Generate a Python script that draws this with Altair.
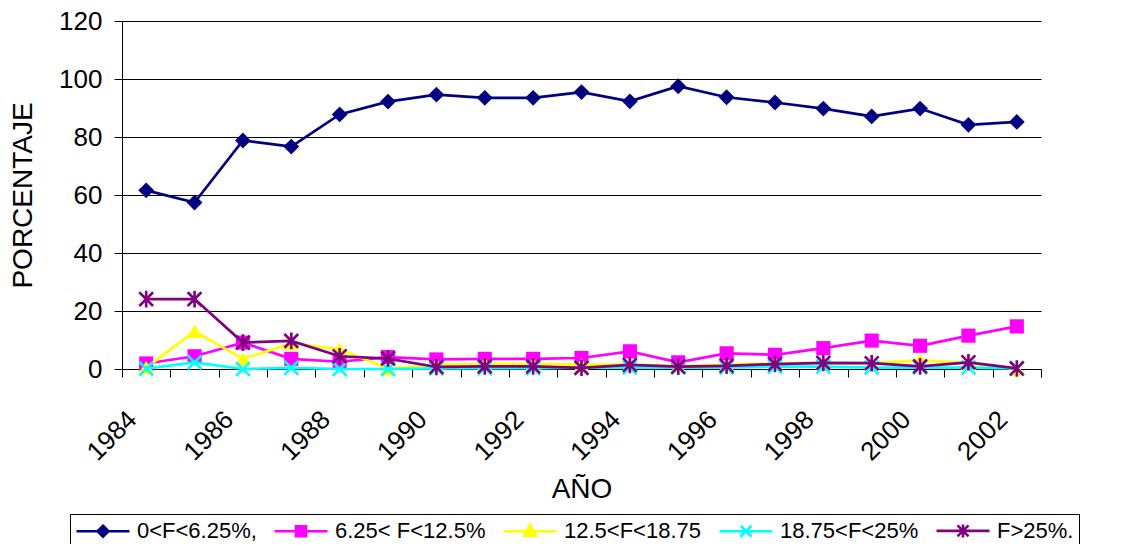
import altair as alt
import pandas as pd

years = list(range(1984, 2003))
series_names = ["0<F<6.25%,", "6.25< F<12.5%", "12.5<F<18.75", "18.75<F<25%", "F>25%."]
s1 = [61.6, 57.4, 78.8, 76.7, 87.8, 92.2, 94.6, 93.5, 93.5, 95.5, 92.3, 97.5, 93.7, 91.9, 89.8, 87.1, 89.8, 84.2, 85.2]
s2 = [1.9, 4.4, 9.1, 3.5, 2.5, 4.1, 3.3, 3.5, 3.5, 3.8, 6.1, 2.3, 5.4, 4.9, 7.2, 9.8, 8.0, 11.5, 14.7]
s3 = [0.5, 13.0, 3.5, 8.8, 6.8, 0.1, 1.5, 1.8, 1.8, 1.5, 1.5, 1.0, 1.5, 2.0, 2.0, 2.0, 3.0, 2.0, 0.0]
s4 = [0.1, 2.3, 0.0, 0.4, 0.0, 0.0, 0.2, 0.3, 0.3, 0.5, 0.5, 0.5, 0.5, 0.8, 0.8, 0.5, 0.5, 0.5, 0.2]
s5 = [24.1, 24.1, 9.1, 9.7, 4.4, 3.6, 0.7, 0.9, 0.9, 0.4, 1.4, 0.8, 1.1, 1.7, 2.1, 2.0, 0.9, 2.3, 0.2]
colors = ["#000080", "#FF00FF", "#FFFF00", "#00FFFF", "#800080"]
y_ticks = [0, 20, 40, 60, 80, 100, 120]

X_PATH = "M-1,-1L1,1M-1,1L1,-1"
AST_PATH = "M-1,-1L1,1M-1,1L1,-1M0,-1.2L0,1.2"
point_shapes = ["diamond", "square", "triangle-up", X_PATH, AST_PATH]
point_sizes = [250, 200, 240, 190, 190]
point_filled = [True, True, True, False, False]


# legend symbols: a line with the marker in its middle (unit = 10 px);
# solid markers are drawn as nested outlines so the stroke colour fills them
def _f(v):
    return f"{v:.3f}"


CX = 1.65
LINE = "M-1,0L4.3,0"


def diamond_sym():
    p = LINE
    for r in (0.55, 0.33, 0.11):
        p += f"M{_f(CX)},{_f(-r)}L{_f(CX + r)},0L{_f(CX)},{_f(r)}L{_f(CX - r)},0Z"
    return p


def square_sym():
    p = LINE
    for h in (0.5, 0.28, 0.06):
        p += (f"M{_f(CX - h)},{_f(-h)}L{_f(CX + h)},{_f(-h)}"
              f"L{_f(CX + h)},{_f(h)}L{_f(CX - h)},{_f(h)}Z")
    return p


def triangle_sym():
    p = LINE
    cy = 0.08
    pts = [(0.0, -0.65), (0.6, 0.45), (-0.6, 0.45)]
    for k in (1.0, 0.6, 0.25):
        q = [(CX + dx * k, cy + (dy - cy) * k) for dx, dy in pts]
        p += f"M{_f(q[0][0])},{_f(q[0][1])}L{_f(q[1][0])},{_f(q[1][1])}L{_f(q[2][0])},{_f(q[2][1])}Z"
    return p


def x_sym(star=False):
    h = 0.55
    p = LINE + f"M{_f(CX - h)},{_f(-h)}L{_f(CX + h)},{_f(h)}M{_f(CX - h)},{_f(h)}L{_f(CX + h)},{_f(-h)}"
    if star:
        p += f"M{_f(CX)},-0.65L{_f(CX)},0.65"
    return p


legend_shapes = [diamond_sym(), square_sym(), triangle_sym(), x_sym(), x_sym(True)]

rows = []
for name, vals in zip(series_names, [s1, s2, s3, s4, s5]):
    for yr, v in zip(years, vals):
        rows.append({"Year": yr, "Serie": name, "Valor": v})
df = pd.DataFrame(rows)

FONT = "Liberation Sans"

x_enc = alt.X(
    "Year:O",
    scale=alt.Scale(type="band", paddingInner=0, paddingOuter=0),
    axis=alt.Axis(
        title="AÑO", titleFontSize=28, titleFontWeight="normal", titleColor="black",
        titlePadding=10,
        tickBand="extent", tickSize=8, tickColor="black", domainColor="black",
        labelAngle=-45, labelAlign="right", labelBaseline="middle",
        labelOffset=-14, labelPadding=38, labelFontSize=26, labelColor="black",
        labelOverlap=False,
        labelExpr="datum.value % 2 == 0 ? datum.label : ''",
        grid=False,
    ),
)
y_enc = alt.Y(
    "Valor:Q",
    scale=alt.Scale(domain=[0, 120], nice=False, zero=True),
    axis=alt.Axis(
        title="PORCENTAJE", titleFontSize=28, titleFontWeight="normal", titleColor="black",
        titlePadding=21,
        values=y_ticks, tickSize=8, tickColor="black", domainColor="black",
        labelFontSize=26, labelColor="black", labelPadding=12,
        grid=True, gridColor="black", gridWidth=1, gridOpacity=1,
    ),
)

layers = []
for i, name in enumerate(series_names):
    sub = alt.Chart(df).transform_filter(alt.datum.Serie == name)
    layers.append(
        sub.mark_line(strokeWidth=2.7, color=colors[i]).encode(x=x_enc, y=y_enc)
    )
    layers.append(
        sub.mark_point(
            shape=point_shapes[i], size=point_sizes[i], filled=point_filled[i],
            color=colors[i], opacity=1, strokeWidth=(1 if point_filled[i] else 2.6),
        ).encode(x=x_enc, y=y_enc)
    )

leg = alt.Legend(
    title=None, orient="none", legendX=-52, legendY=493, direction="horizontal",
    columns=5, labelFontSize=22, labelColor="black", labelFont=FONT,
    symbolSize=400, symbolStrokeWidth=2.6,
    labelOffset=39, columnPadding=12,
    padding=5, strokeColor="black", fillColor="white",
)
# invisible carrier layer for the legend (symbols: line + marker)
legend_layer = alt.Chart(df).transform_filter(alt.datum.Year == years[0]).mark_point(
    filled=False, size=400, opacity=0, strokeWidth=2.6
).encode(
    x=x_enc, y=y_enc,
    stroke=alt.Stroke("Serie:N", scale=alt.Scale(domain=series_names, range=colors), legend=leg),
    shape=alt.Shape("Serie:N", scale=alt.Scale(domain=series_names, range=legend_shapes), legend=leg),
)
layers.append(legend_layer)

chart = alt.layer(*layers).properties(
    width=919, height=348,
    autosize=alt.AutoSizeParams(type="none"),
    padding={"left": 114, "top": 13, "right": 80, "bottom": 175},
).configure(font=FONT).configure_view(stroke=None)

chart.save("out.html", embed_options={"renderer": "svg", "actions": False})
